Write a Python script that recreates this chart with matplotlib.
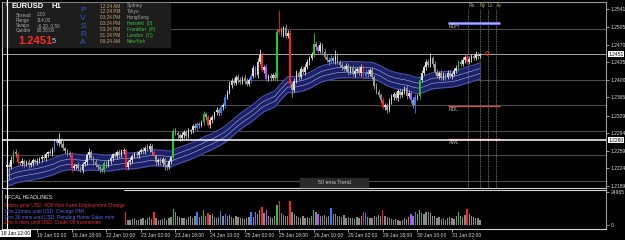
import matplotlib.pyplot as plt
from matplotlib.patches import Rectangle
from matplotlib.lines import Line2D
from matplotlib.transforms import blended_transform_factory

plt.rcParams['font.family'] = ['Liberation Sans', 'DejaVu Sans']

# EURUSD H1 - prices stored as pips above 1.2200
base_price = 1.2200
pip = 0.0001
first_open = 26

close_pips = [
    30, 26, 40, 56, 52, 36, 34, 38, 32, 36,
    30, 34, 40, 36, 38, 42, 46, 44, 52, 56,
    54, 62, 78, 74, 80, 72, 64, 58, 54, 50,
    24, 28, 30, 24, 20, 32, 36, 50, 56, 44,
    36, 30, 26, 22, 20, 34, 30, 38, 44, 52,
    48, 56, 50, 58, 60, 26, 36, 40, 48, 52,
    50, 56, 60, 58, 64, 62, 68, 56, 50, 36,
    40, 34, 42, 30, 26, 38, 46, 98, 94, 90,
    84, 90, 96, 88, 98, 100, 108, 104, 112, 110,
    116, 132, 126, 110, 120, 126, 136, 140, 134, 146,
    150, 166, 176, 190, 198, 194, 206, 200, 196, 204,
    198, 192, 200, 208, 224, 210, 236, 250, 220, 226,
    202, 208, 204, 210, 204, 296, 300, 292, 304, 288,
    294, 192, 180, 198, 214, 206, 222, 216, 226, 236,
    244, 250, 272, 266, 258, 270, 256, 246, 240, 236,
    244, 238, 248, 236, 230, 226, 222, 228, 216, 224,
    212, 218, 222, 214, 226, 208, 216, 212, 220, 206,
    188, 176, 170, 160, 146, 150, 140, 158, 166, 172,
    164, 178, 170, 176, 184, 168, 174, 160, 150, 166,
    168, 200, 214, 226, 236, 230, 244, 232, 216, 208,
    214, 204, 210, 206, 214, 208, 212, 218, 224, 236,
    232, 240, 246, 236, 242, 248, 244, 252, 248, 251,
]

wick_up = [
    4, 6, 8, 4, 6, 5, 3, 6, 4, 5,
    6, 4, 5, 3, 6, 4, 5, 6, 4, 3,
    6, 4, 5, 6, 14, 4, 6, 3, 5, 4,
    6, 4, 3, 6, 4, 5, 6, 4, 8, 5,
    4, 6, 3, 5, 4, 6, 5, 4, 6, 3,
    5, 4, 6, 4, 5, 3, 4, 6, 5, 4,
    6, 4, 5, 6, 4, 8, 6, 5, 4, 3,
    5, 6, 4, 3, 5, 4, 3, 4, 6, 5,
    4, 6, 5, 4, 6, 3, 5, 6, 4, 5,
    4, 6, 5, 4, 6, 5, 3, 6, 4, 5,
    4, 6, 4, 8, 5, 6, 4, 5, 6, 4,
    5, 6, 4, 5, 6, 4, 8, 12, 6, 4,
    5, 4, 6, 4, 5, 6, 38, 6, 4, 8,
    5, 6, 4, 6, 5, 4, 6, 4, 5, 6,
    4, 6, 22, 5, 4, 6, 4, 5, 6, 4,
    6, 4, 12, 5, 4, 6, 4, 5, 6, 4,
    5, 6, 4, 5, 6, 4, 5, 6, 4, 5,
    4, 6, 5, 4, 6, 5, 4, 6, 5, 4,
    6, 4, 5, 6, 4, 5, 6, 4, 5, 6,
    4, 6, 5, 4, 6, 5, 10, 4, 6, 5,
    4, 6, 5, 4, 6, 5, 4, 6, 5, 4,
    6, 5, 4, 6, 5, 4, 6, 5, 4, 3,
]

wick_dn = [
    6, 26, 4, 6, 5, 8, 4, 6, 5, 4,
    5, 4, 6, 4, 5, 3, 6, 4, 5, 6,
    4, 5, 6, 4, 5, 6, 4, 5, 6, 4,
    8, 4, 6, 5, 4, 6, 4, 5, 6, 4,
    6, 4, 5, 6, 4, 5, 6, 4, 5, 6,
    4, 5, 6, 4, 5, 6, 4, 5, 6, 4,
    5, 6, 4, 5, 6, 4, 5, 6, 4, 5,
    6, 4, 5, 10, 6, 4, 5, 6, 4, 5,
    6, 4, 5, 6, 4, 5, 6, 4, 5, 6,
    4, 5, 6, 4, 5, 6, 4, 5, 6, 4,
    5, 6, 4, 5, 6, 4, 5, 6, 4, 5,
    6, 4, 5, 6, 4, 5, 6, 4, 5, 6,
    4, 5, 6, 4, 5, 6, 4, 5, 6, 4,
    5, 6, 14, 5, 4, 6, 4, 5, 6, 4,
    6, 4, 5, 6, 4, 5, 6, 4, 5, 6,
    4, 5, 6, 4, 5, 6, 4, 5, 6, 4,
    5, 6, 4, 5, 6, 4, 5, 6, 4, 5,
    6, 4, 5, 6, 4, 5, 6, 4, 5, 6,
    4, 5, 6, 4, 5, 6, 4, 5, 6, 16,
    5, 6, 4, 5, 6, 4, 5, 6, 4, 5,
    6, 4, 5, 6, 4, 5, 6, 4, 5, 6,
    4, 5, 6, 4, 5, 6, 4, 5, 6, 4,
]

# tick volume in hundreds
volume_100 = [
    60, 85, 70, 95, 60, 90, 45, 50, 40, 55,
    45, 40, 50, 35, 45, 50, 55, 45, 60, 55,
    50, 65, 90, 70, 80, 60, 55, 50, 45, 60,
    100, 70, 55, 50, 45, 60, 55, 70, 65, 50,
    45, 40, 35, 40, 45, 85, 50, 45, 55, 60,
    50, 45, 40, 50, 55, 95, 40, 35, 45, 50,
    40, 35, 45, 50, 40, 55, 60, 45, 95, 50,
    40, 35, 45, 50, 40, 55, 60, 120, 95, 70,
    60, 50, 55, 45, 60, 65, 55, 70, 100, 60,
    65, 110, 70, 90, 75, 80, 60, 55, 60, 105,
    70, 80, 65, 75, 60, 55, 70, 60, 55, 50,
    45, 55, 60, 95, 60, 100, 80, 110, 135, 90,
    110, 70, 60, 55, 65, 150, 180, 90, 75, 70,
    65, 185, 100, 80, 70, 60, 55, 65, 50, 60,
    55, 65, 115, 100, 80, 70, 65, 75, 60, 70,
    125, 80, 85, 65, 70, 60, 75, 55, 60, 50,
    55, 45, 60, 50, 65, 95, 90, 60, 50, 55,
    70, 60, 75, 65, 110, 70, 60, 50, 45, 40,
    45, 35, 30, 40, 50, 45, 60, 85, 65, 95,
    80, 110, 90, 85, 95, 100, 90, 70, 65, 55,
    60, 45, 50, 40, 55, 60, 50, 45, 65, 100,
    70, 60, 75, 120, 80, 70, 60, 55, 50, 35,
]

# PVSRA coloured bars (climax / rising volume)
pvsra_bars = {
    3: 'green', 5: 'red', 22: 'blue', 30: 'red', 45: 'green', 55: 'red',
    68: 'red', 77: 'green', 88: 'blue', 91: 'green', 93: 'red', 99: 'blue',
    101: 'blue', 113: 'blue', 115: 'purple', 118: 'red', 120: 'purple',
    125: 'green', 126: 'red', 131: 'red', 142: 'green', 144: 'purple',
    150: 'blue', 165: 'red', 166: 'blue', 174: 'red', 187: 'purple',
    189: 'blue', 191: 'green', 209: 'green', 213: 'red',
}
pvsra_colors = {'green': '#22cc22', 'red': '#ff2020', 'blue': '#2f80ff', 'purple': '#b050ff'}

ema_period = 50
ema_seed = 4
band_half = 16

price_ticks = [1.2541, 1.2505, 1.2470, 1.2435, 1.2400, 1.2365, 1.2329, 1.2294, 1.2259, 1.2224, 1.2189]
current_price = 1.2451
cursor_price = 1.2280
cursor_bar = 0
cursor_label = '18 Jan 12:00'
pivot_levels = [1.2501, 1.2400, 1.2350, 1.2298, 1.2251, 1.2199]
rdh_price, rdl_price, awl_price = 1.2513, 1.2348, 1.2282
level_span = (204, 228)
session_bars = [213.5, 219, 222.5, 226.5]
session_names = ['Ro', 'Ny', 'Lo', 'As']
alert_bar = 222
alert_price = 1.2453

date_bars = [14, 30, 46, 62, 78, 94, 110, 126, 142, 158, 174, 190, 206]
date_labels = ['19 Jan 02:00', '19 Jan 18:00', '22 Jan 10:00', '23 Jan 02:00', '23 Jan 18:00',
               '24 Jan 10:00', '25 Jan 02:00', '25 Jan 18:00', '26 Jan 10:00', '29 Jan 02:00',
               '29 Jan 18:00', '30 Jan 10:00', '31 Jan 02:00']
vol_top = 24965

info_rows = [('Spread', '2.00'), ('Range', '114.00'), ('Swaps', '-6.20, 0.50'), ('Candle', '00:35:00')]
session_times = ['12:24 AM', '12:24 PM', '03:24 PM', '03:24 PM', '03:24 PM', '01:24 PM', '08:24 AM']
session_cities = ['Sydney', 'Tokyo', 'HongKong', 'Helsinki  (0)', 'Frankfurt  (P)', 'London  (O)', 'NewYork']
city_open = [False, False, False, True, True, True, True]
headlines = ['0 mins prior USD: ADP Non-Farm Employment Change',
             '1hrs 21mins until USD: Chicago PMI',
             '1hrs 36 mins until USD: Pending Home Sales m/m',
             '2hrs 6 mins until USD: Crude Oil Inventories']
headline_colors = ['#e83030', '#5a66f0', '#5a66f0', '#e83030']

W, H = 625, 240


def fig_box(x0, y0, x1, y1):
    return [x0 / W, 1 - y1 / H, (x1 - x0) / W, (y1 - y0) / H]


def ptext(x, y, s, **kw):
    kw.setdefault('va', 'center')
    kw.setdefault('zorder', 10)
    fig.text(x / W, 1 - y / H, s, **kw)


fig = plt.figure(figsize=(6.25, 2.4), dpi=100, facecolor='black')
ax = fig.add_axes(fig_box(2, 2, 606, 188), facecolor='black')
axv = fig.add_axes(fig_box(2, 190, 606, 229), facecolor='black')

n = len(close_pips)
xs = list(range(n))
to_price = lambda p: base_price + p * pip

# 50 ema band
ema = []
e = ema_seed
for c in close_pips:
    e += (c - e) * 2 / (ema_period + 1)
    ema.append(e)
lo_band = [to_price(v - band_half) for v in ema]
hi_band = [to_price(v + band_half) for v in ema]
ax.fill_between(xs, lo_band, hi_band, color='#1c2163', zorder=1, lw=0)
ax.plot(xs, lo_band, color='#4a52b0', lw=0.8, zorder=1.2)
ax.plot(xs, hi_band, color='#4a52b0', lw=0.8, zorder=1.2)
for off in (-5, 5):
    ax.plot(xs, [to_price(v + off) for v in ema], color='#9aa2ee', lw=0.45, zorder=1.3)

# candles
prev = first_open
for i in xs:
    o, c = prev, close_pips[i]
    hi = max(o, c) + wick_up[i]
    lo = min(o, c) - wick_dn[i]
    if i in pvsra_bars:
        col = pvsra_colors[pvsra_bars[i]]
    else:
        col = '#dcdcdc' if c >= o else '#9c9c9c'
    ax.vlines(i, to_price(lo), to_price(hi), color=col, lw=0.6, zorder=2)
    body = (c - o) * pip if c != o else 0.4 * pip
    ax.bar(i, body, bottom=to_price(o), width=0.75, color=col, lw=0, zorder=2.1)
    prev = c

# levels
for lv in pivot_levels:
    ax.axhline(lv, color='#4c4c4c', lw=0.8, zorder=0.5)
ax.axhline(current_price, color='#a8a8a8', lw=0.7, zorder=0.6)
ax.axhline(cursor_price, color='white', lw=1.1, zorder=4)

ax.hlines(rdh_price, *level_span, color='#7070f0', lw=2.2, zorder=3)
ax.hlines(rdh_price, *level_span, color='#c8c8ff', lw=0.5, zorder=3.1)
ax.hlines([rdl_price, awl_price], *level_span, color='#d05050', lw=1.0, zorder=3)
for name, lv in [('RDH', rdh_price), ('RDL', rdl_price), ('AWL', awl_price)]:
    ax.text(level_span[0] + 0.5, lv - 2.5 * pip, name, color='#b8b8b8', fontsize=3.6, va='top', zorder=3)

for b, name in zip(session_bars, session_names):
    ax.axvline(b, ymax=0.965, color='#8a8a8a', lw=0.6, ls=(0, (1, 1)), zorder=1.5)
    ax.text(b, 1.0 - 0.018, name, transform=blended_transform_factory(ax.transData, ax.transAxes),
            color='#a8a86a', fontsize=3.6, ha='left', va='center')
ax.plot(alert_bar, alert_price, 'o', mfc='none', mec='#e03030', ms=2.5, mew=0.7, zorder=3)

# volume
vcols = [pvsra_colors[pvsra_bars[i]] if i in pvsra_bars else '#8a8a8a' for i in xs]
axv.bar(xs, [v * 100 for v in volume_100], width=0.6, color=vcols, lw=0, zorder=2)
axv.add_patch(Rectangle((-1.8, -4000), 55.5, 40000, color='black', zorder=3))

for a in (ax, axv):
    a.set_xlim(-2.3, 277.3)
    for s in a.spines.values():
        s.set_color('#9a9a9a')
        s.set_linewidth(0.8)
    a.spines['left'].set_color('#d0d0d0')
ax.spines['bottom'].set_color('#d0d0d0')
axv.spines['top'].set_color('#d0d0d0')
axv.spines['bottom'].set_color('#d8d8d8')

ax.set_ylim(1.21850, 1.25549)
ax.set_xticks([])
ax.yaxis.tick_right()
ax.set_yticks(price_ticks)
ax.set_yticklabels([f'{p:.4f}' for p in price_ticks])
ax.tick_params(axis='y', colors='#d8d8d8', labelsize=3.6, length=2, width=0.5, pad=1.5)

axv.set_ylim(-3100, 26550)
axv.yaxis.tick_right()
axv.set_yticks([vol_top, 0])
axv.set_yticklabels([str(vol_top), '0'])
axv.tick_params(axis='y', colors='#d8d8d8', labelsize=3.6, length=2, width=0.5, pad=1.5)
axv.set_xticks(date_bars)
axv.set_xticklabels(date_labels, ha='left')
axv.tick_params(axis='x', colors='#d8d8d8', labelsize=3.6, length=2, width=0.5, pad=1)

# boxed axis labels
tr = blended_transform_factory(ax.transAxes, ax.transData)
for p in (current_price, cursor_price):
    ax.text(1.004, p, f'{p:.4f}', transform=tr, fontsize=3.6, color='black', va='center', ha='left',
            bbox=dict(facecolor='white', edgecolor='none', pad=0.5), zorder=10, clip_on=False)

# crosshair vertical line through both panes
vt = blended_transform_factory(ax.transData, fig.transFigure)
fig.add_artist(Line2D([cursor_bar, cursor_bar], [1 - 229 / H, 1], transform=vt, color='white', lw=0.8, zorder=5))
ptext(1, 233.5, cursor_label, fontsize=3.6, color='black', ha='left',
      bbox=dict(facecolor='white', edgecolor='none', pad=0.5))

# info panel
fig.add_artist(Rectangle((3 / W, 1 - 47 / H), 167 / W, 44 / H, transform=fig.transFigure,
                         color='#1d1d1d', zorder=1))
ptext(4, 5, '\u25bc', fontsize=3, color='white')
ptext(12, 7, 'EURUSD', fontsize=5.5, color='white', weight='bold')
ptext(51, 7, 'H1', fontsize=5.5, color='white', weight='bold')
for k, (lab, val) in enumerate(info_rows):
    ptext(16, 15 + 5.3 * k, lab, fontsize=3.4, color='#a8a8a8')
    ptext(37, 15 + 5.3 * k, val, fontsize=3.4, color='#a8a8a8')
ptext(18, 40.5, '1.2451', fontsize=8, color='#ff2828', weight='bold')
ptext(52, 41.5, '5', fontsize=5.5, color='#c8c8c8')
for k, ch in enumerate('PVSRA'):
    ptext(83, 10 + 8 * k, ch, fontsize=6, color='#3a58c8', ha='center')
for k, (t, city) in enumerate(zip(session_times, session_cities)):
    yy = 6 + 5.9 * k
    ptext(100, yy, t, fontsize=3.4, color='#c8a070')
    ptext(127, yy, city, fontsize=3.4, color='#3cc43c' if city_open[k] else '#a8a8a8')

# ema trend label
fig.add_artist(Rectangle((300 / W, 1 - 187 / H), 68 / W, 9 / H, transform=fig.transFigure,
                         color='#2a2a2a', zorder=1))
ptext(334, 182.5, '50 ema Trend', fontsize=3.8, color='#c8c8c8', ha='center')

# calendar headlines
ptext(5, 197.5, 'FFCAL HEADLINES:', fontsize=3.8, color='#e8e8e8')
for k, (h, col) in enumerate(zip(headlines, headline_colors)):
    ptext(4, 206 + 5.6 * k, h, fontsize=3.5, color=col)

fig.savefig('out.png', dpi=100, facecolor='black')
